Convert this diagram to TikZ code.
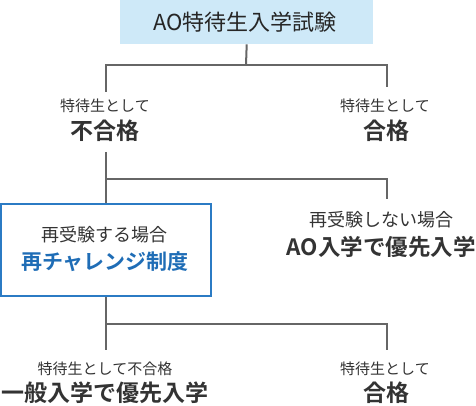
\documentclass[tikz,border=0pt]{standalone}
\usepackage{fontspec}
\setmainfont{Noto Sans CJK JP}
\newfontfamily\jpbold{Noto Sans CJK JP Bold}
\definecolor{linegray}{HTML}{666666}
\definecolor{txtgray}{HTML}{333333}
\definecolor{boxblue}{HTML}{2B7BC4}
\definecolor{titlebg}{HTML}{CEE9F8}
\definecolor{blutxt}{HTML}{1F6DB6}
\begin{document}
\begin{tikzpicture}[x=1pt,y=-1pt,
  conn/.style={draw=linegray,line width=2pt},
  lbl/.style={anchor=base,inner sep=0pt,text=txtgray},
  sm/.style={lbl,font=\fontsize{15}{15}\selectfont},
  md/.style={lbl,font=\fontsize{18}{18}\selectfont},
  big/.style={lbl,font=\jpbold\fontsize{23}{23}\selectfont},
]
\useasboundingbox (0,0) rectangle (476,406);
% title box
\node[fill=titlebg,minimum width=253pt,minimum height=44pt,inner sep=0pt,anchor=north west] (top) at (120,0) {};
\node[lbl,font=\fontsize{22}{22}\selectfont,text=black!85] (title) at (245,30.2) {AO特待生入学試験};
% level 1
\node[sm] (f1a) at (105,111.6) {特待生として};
\node[big] (f1b) at (105,139.5) {不合格};
\node[sm] (p1a) at (385,111.6) {特待生として};
\node[big] (p1b) at (386,139.5) {合格};
\coordinate (j1) at (246,65);
\coordinate (j1l) at (106,65);
\coordinate (j1r) at (387,65);
\coordinate (e1l) at (106,92);
\coordinate (e1r) at (387,87);
\draw[conn] (top.south) -- (j1);
\draw[conn] (e1l) -- (j1l) -- (j1r) -- (e1r);
% retry box
\node[draw=boxblue,line width=2pt,minimum width=210pt,minimum height=92pt,inner sep=0pt] (box) at (106,250) {};
\node[md] (r1) at (104,241.7) {再受験する場合};
\node[lbl,font=\jpbold\fontsize{21}{21}\selectfont,text=blutxt] (r2) at (105,269.8) {再チャレンジ制度};
\node[md] (n1) at (381,226.7) {再受験しない場合};
\node[lbl,font=\jpbold\fontsize{22.5}{22.5}\selectfont] (n2) at (381,255.2) {AO入学で優先入学};
\coordinate (s2) at (106,152);
\coordinate (j2l) at (106,179);
\coordinate (j2r) at (387,179);
\coordinate (e2r) at (387,199);
\draw[conn] (s2) -- (box.north);
\draw[conn] (j2l) -- (j2r) -- (e2r);
% level 3
\node[sm] (f3a) at (105,374.6) {特待生として不合格};
\node[big] (f3b) at (105,401.5) {一般入学で優先入学};
\node[sm] (p3a) at (385,374.6) {特待生として};
\node[big] (p3b) at (386,401.5) {合格};
\coordinate (e3l) at (106,350);
\coordinate (j3l) at (106,324);
\coordinate (j3r) at (387,324);
\coordinate (e3r) at (387,350);
\draw[conn] (box.south) -- (e3l);
\draw[conn] (j3l) -- (j3r) -- (e3r);
\end{tikzpicture}
\end{document}
